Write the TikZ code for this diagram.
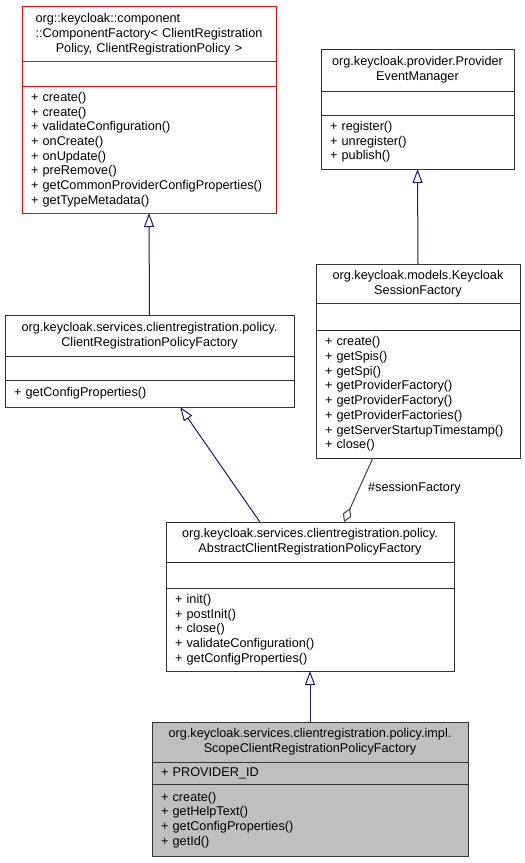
\documentclass[tikz,border=0pt]{standalone}
\usepackage{fontspec}
\setmainfont{Liberation Sans}
\usetikzlibrary{arrows.meta}
\usetikzlibrary{calc}
\definecolor{midnight}{HTML}{191970}
\definecolor{edgegrey}{HTML}{404040}
\definecolor{boxgrey}{HTML}{BFBFBF}

\begin{document}
\begin{tikzpicture}[x=1pt, y=-1pt,
    cls/.style={draw=black!80, line width=1pt, fill=white, outer sep=0pt, inner xsep=9pt, inner ysep=0pt, anchor=north, font=\fontsize{12.7}{14.7}\selectfont},
    hdr/.style={cls, align=center},
    mth/.style={cls, align=left},
    inherit/.style={draw=midnight, line width=1pt, -{Triangle[open, length=14pt, width=10pt]}},
    usage/.style={draw=edgegrey, line width=1pt, {Diamond[open, length=15pt, width=9pt]}-}]
\useasboundingbox (0,0) rectangle (525,863);

\node[hdr, draw=red, text width=236pt, minimum height=55pt] (cfH) at (149,6) {\begin{tabular}[b]{@{}l@{}}org::keycloak::component\\::ComponentFactory< ClientRegistration\end{tabular}\\Policy, ClientRegistrationPolicy >};
\node[cls, draw=red, text width=236pt, minimum height=25pt] (cfA) at (cfH.south) {};
\node[mth, draw=red, text width=236pt, minimum height=127pt] (cfM) at (cfA.south) {+ create()\\+ create()\\+ validateConfiguration()\\+ onCreate()\\+ onUpdate()\\+ preRemove()\\+ getCommonProviderConfigProperties()\\+ getTypeMetadata()};

\node[hdr, text width=175pt, minimum height=42pt] (pemH) at (417.5,49) {org.keycloak.provider.Provider\\EventManager};
\node[cls, text width=175pt, minimum height=24pt] (pemA) at (pemH.south) {};
\node[mth, text width=175pt, minimum height=54pt] (pemM) at (pemA.south) {+ register()\\+ unregister()\\+ publish()};

\node[hdr, text width=186pt, minimum height=39pt] (ksfH) at (418,264) {org.keycloak.models.Keycloak\\SessionFactory};
\node[cls, text width=186pt, minimum height=27pt] (ksfA) at (ksfH.south) {};
\node[mth, text width=186pt, minimum height=128pt] (ksfM) at (ksfA.south) {+ create()\\+ getSpis()\\+ getSpi()\\+ getProviderFactory()\\+ getProviderFactory()\\+ getProviderFactories()\\+ getServerStartupTimestamp()\\+ close()};

\node[hdr, text width=271pt, minimum height=41pt] (crpfH) at (149.5,315) {org.keycloak.services.clientregistration.policy.\\ClientRegistrationPolicyFactory};
\node[cls, text width=271pt, minimum height=24pt] (crpfA) at (crpfH.south) {};
\node[mth, text width=271pt, minimum height=27pt] (crpfM) at (crpfA.south) {+ getConfigProperties()};

\node[hdr, text width=270pt, minimum height=40pt] (acrpfH) at (310,522) {org.keycloak.services.clientregistration.policy.\\AbstractClientRegistrationPolicyFactory};
\node[cls, text width=270pt, minimum height=26pt] (acrpfA) at (acrpfH.south) {};
\node[mth, text width=270pt, minimum height=83pt] (acrpfM) at (acrpfA.south) {+ init()\\+ postInit()\\+ close()\\+ validateConfiguration()\\+ getConfigProperties()};

\node[hdr, fill=boxgrey, text width=298pt, minimum height=40pt] (scrpfH) at (310,722) {org.keycloak.services.clientregistration.policy.impl.\\ScopeClientRegistrationPolicyFactory};
\node[mth, fill=boxgrey, text width=298pt, minimum height=22pt] (scrpfA) at (scrpfH.south) {+ PROVIDER\_ID};
\node[mth, fill=boxgrey, text width=298pt, minimum height=72pt] (scrpfM) at (scrpfA.south) {+ create()\\+ getHelpText()\\+ getConfigProperties()\\+ getId()};

\draw[inherit] (crpfH.north) -- (cfM.south);
\draw[inherit] (ksfH.north) -- (pemM.south);
\draw[inherit] ($(acrpfH.north west)!0.326!(acrpfH.north east)$) -- ($(crpfM.south west)!0.606!(crpfM.south east)$);
\draw[usage] ($(acrpfH.north west)!0.618!(acrpfH.north east)$) -- ($(ksfM.south west)!0.279!(ksfM.south east)$) node[pos=0.53, anchor=west, xshift=5pt, font=\fontsize{12.7}{14.7}\selectfont] (sfLbl) {\#sessionFactory};
\draw[inherit] (scrpfH.north) -- (acrpfM.south);

\end{tikzpicture}
\end{document}
